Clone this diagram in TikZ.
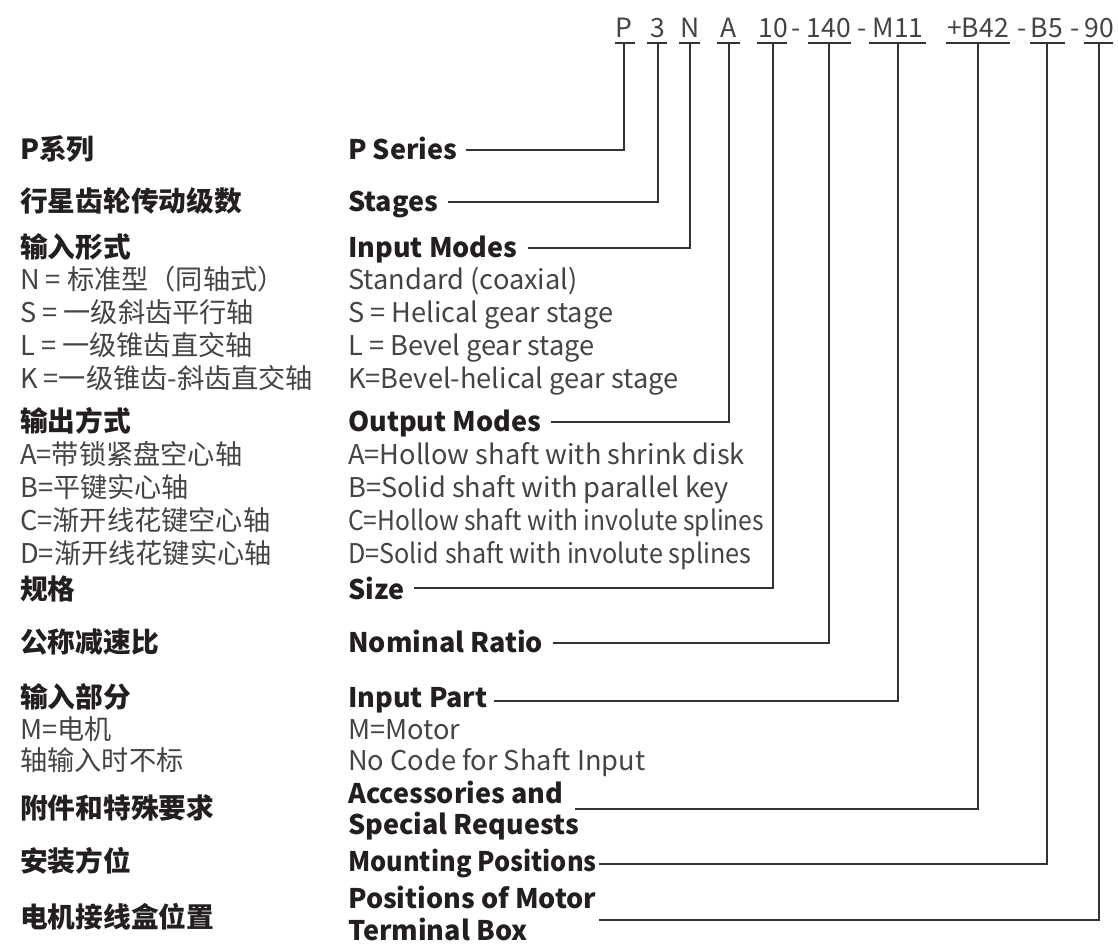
\documentclass[tikz,border=0pt]{standalone}
\usepackage{fontspec}
\setmainfont{Noto Sans CJK SC}
\usetikzlibrary{calc}
\definecolor{ink}{HTML}{231F20}
\definecolor{soft}{HTML}{444444}
\definecolor{wire}{HTML}{333333}
\tikzset{
  hd/.style={anchor=base west,inner sep=0pt,text=ink,font=\fontsize{27}{30}\selectfont\bfseries},
  zh/.style={anchor=base west,inner sep=0pt,text=ink,font=\fontsize{27.7}{30}\selectfont\bfseries},
  tx/.style={anchor=base west,inner sep=0pt,text=soft,font=\fontsize{27.2}{30}\selectfont},
  code/.style={anchor=base,inner sep=0pt,text=soft,font=\fontsize{26.5}{30}\selectfont},
  wireline/.style={draw=wire,line width=1.3pt},
}
\begin{document}
\begin{tikzpicture}[x=1pt,y=-1pt]
\useasboundingbox[fill=white] (0,0) rectangle (1118,943);

% ---- code line ----
\node[code] (kP) at (624,37) {P};
\node[code] (k3) at (658,37) {3};
\node[code] (kN) at (690,37) {N};
\node[code] (kA) at (729,37) {A};
\node[code] (k10) at (773,37) {10};
\node[code] (d1) at (796,37) {-};
\node[code] (k140) at (829,37) {140};
\node[code] (d2) at (862,37) {-};
\node[code] (kM) at (898,37) {M11};
\node[code] (kB42) at (978,37) {+B42};
\node[code] (d3) at (1022,37) {-};
\node[code] (kB5) at (1047,37) {B5};
\node[code] (d4) at (1075,37) {-};
\node[code] (k90) at (1099,37) {90};

\coordinate (uP) at (624,43);
\coordinate (u3) at (658,43);
\coordinate (uN) at (690,43);
\coordinate (uA) at (729,43);
\coordinate (u10) at (773,43);
\coordinate (u140) at (829,43);
\coordinate (uM) at (898,43);
\coordinate (uB42) at (978,43);
\coordinate (uB5) at (1047,43);
\coordinate (u90) at (1099,43);

\foreach \a/\b in {615/635,647/667,679/700,717/740,757/787,808/851,869/926,946/1010,1030/1065,1084/1113}
  \draw[wireline] (\a,43) -- (\b,43);

% ---- left column (Chinese) ----
\node[zh] (zPS) at (20,159) {P系列};
\node[zh] (zSt) at (20,211) {行星齿轮传动级数};
\node[zh] (zIM) at (20,257) {输入形式};
\node[tx] (zN) at (20,289) {N = 标准型（同轴式）};
\node[tx] (zS) at (20,322) {S = 一级斜齿平行轴};
\node[tx] (zL) at (20,355) {L = 一级锥齿直交轴};
\node[tx] (zK) at (20,388) {K =一级锥齿-斜齿直交轴};
\node[zh] (zOM) at (20,431) {输出方式};
\node[tx] (zA) at (20,464) {A=带锁紧盘空心轴};
\node[tx] (zB) at (20,497) {B=平键实心轴};
\node[tx] (zC) at (20,530) {C=渐开线花键空心轴};
\node[tx] (zD) at (20,563) {D=渐开线花键实心轴};
\node[zh] (zSz) at (20,599) {规格};
\node[zh] (zNR) at (20,652) {公称减速比};
\node[zh] (zIP) at (20,707) {输入部分};
\node[tx] (zMm) at (20,739) {M=电机};
\node[tx] (zNo) at (20,770) {轴输入时不标};
\node[zh] (zAc) at (20,818) {附件和特殊要求};
\node[zh] (zMP) at (20,871) {安装方位};
\node[zh] (zPM) at (20,927) {电机接线盒位置};

% ---- middle column (English) ----
\node[hd] (ePS) at (348,159) {P Series};
\node[hd] (eSt) at (348,211) {Stages};
\node[hd] (eIM) at (348,257) {Input Modes};
\node[tx] (eN) at (348,289) {Standard (coaxial)};
\node[tx] (eS) at (348,322) {S = Helical gear stage};
\node[tx] (eL) at (348,355) {L = Bevel gear stage};
\node[tx] (eK) at (348,388) {K=Bevel-helical gear stage};
\node[hd] (eOM) at (348,431) {Output Modes};
\node[tx] (eA) at (348,464) {A=Hollow shaft with shrink disk};
\node[tx] (eB) at (348,497) {B=Solid shaft with parallel key};
\node[tx] (eC) at (348,530) {\scalebox{0.905}[1]{C=Hollow shaft with involute splines}};
\node[tx] (eD) at (348,563) {\scalebox{0.925}[1]{D=Solid shaft with involute splines}};
\node[hd] (eSz) at (348,599) {Size};
\node[hd] (eNR) at (348,652) {Nominal Ratio};
\node[hd] (eIP) at (348,707) {Input Part};
\node[tx] (eMm) at (348,739) {M=Motor};
\node[tx] (eNo) at (348,770) {No Code for Shaft Input};
\node[hd] (eAc) at (348,803) {Accessories and};
\node[hd] (eAc2) at (348,834) {Special Requests};
\node[hd] (eMP) at (348,871) {\scalebox{0.94}[1]{Mounting Positions}};
\node[hd] (ePM) at (348,908) {Positions of Motor};
\node[hd] (ePM2) at (348,940) {Terminal Box};

% ---- connectors ----
\draw[wireline] (ePS.east |- 0,150) ++(8,0) -| (uP);
\draw[wireline] (eSt.east |- 0,202) ++(10,0) -| (u3);
\draw[wireline] (eIM.east |- 0,248) ++(10,0) -| (uN);
\draw[wireline] (eOM.east |- 0,422) ++(10,0) -| (uA);
\draw[wireline] (eSz.east |- 0,588) ++(10,0) -| (u10);
\draw[wireline] (eNR.east |- 0,643) ++(10,0) -| (u140);
\draw[wireline] (eIP.east |- 0,701) ++(6,0) -| (uM);
\draw[wireline] (eAc.east |- 0,809) ++(12,0) -| (uB42);
\draw[wireline] (eMP.east |- 0,864) ++(2,0) -| (uB5);
\draw[wireline] (ePM.east |- 0,920) ++(2,0) -| (u90);
\end{tikzpicture}
\end{document}
